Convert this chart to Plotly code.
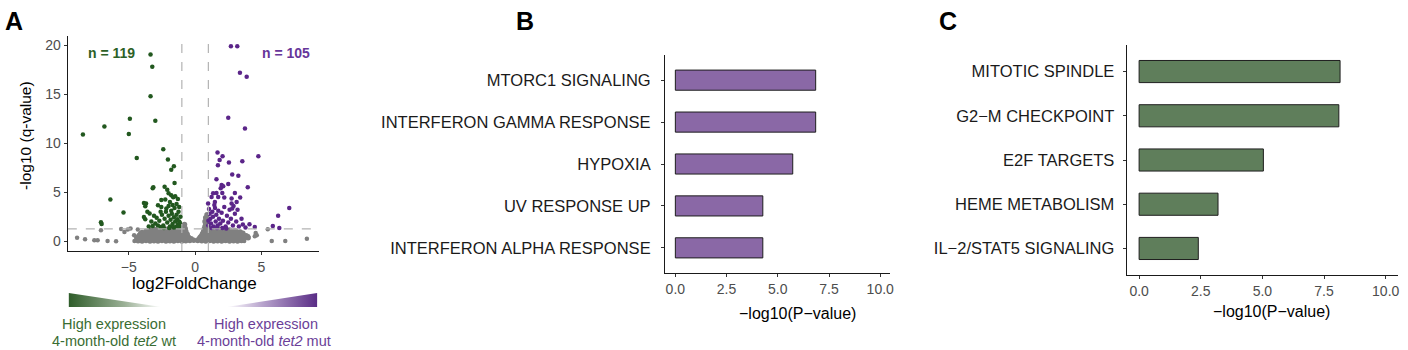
import plotly.graph_objects as go

W, H = 1408, 350
FONT = "Liberation Sans, Arial, sans-serif"

# ---------------- Panel A data (volcano) ----------------
green_x = [-3.36, -3.23, -3.36, -4.92, -3.0, -6.84, -8.46, -5.0, -2.4, -4.4, -2.05, -1.6, -1.8, -1.55,
           -3.2, -3.15, -2.3, -2.1, -2.0, -1.8, -1.65, -1.5, -6.39, -2.55, -2.25, -3.86, -3.7, -3.76,
           -2.8, -2.55, -2.17, -5.4, -3.6, -3.43, -3.86, -3.76, -7.1, -7.05,
           -3.3, -3.0, -3.2, -2.9, -2.7, -2.5, -2.4, -2.3, -2.2, -2.1, -2.0, -1.9, -1.85, -1.8, -1.75,
           -1.7, -1.6, -1.55, -1.5, -1.45, -1.4, -1.35, -1.3, -1.25, -1.2, -1.15, -1.1, -1.6, -2.6,
           -2.8, -3.5, -2.0, -1.9, -1.4, -1.3, -2.6, -3.1, -1.2, -1.7, -1.15, -1.3, -2.35, -1.95]
green_y = [19.05, 17.8, 14.8, 12.5, 12.3, 11.7, 10.9, 10.95, 9.4, 8.5, 8.35, 7.65, 7.3, 5.95,
           5.4, 5.5, 5.55, 5.25, 4.9, 4.7, 4.5, 4.6, 4.25, 4.2, 4.25, 3.9, 3.85, 3.57,
           3.67, 3.5, 3.33, 2.93, 3.0, 2.82, 2.48, 2.24, 1.94, 1.75,
           2.0, 1.8, 1.55, 2.4, 2.1, 2.7, 1.6, 2.3, 3.0, 1.9, 2.6, 1.5, 2.2, 3.1, 2.8,
           1.75, 2.45, 3.4, 2.0, 1.45, 2.7, 2.25, 1.7, 3.0, 2.0, 1.5, 2.5, 1.4, 1.45,
           1.6, 1.5, 3.6, 4.0, 3.8, 4.3, 3.0, 2.6, 3.5, 3.7, 1.85, 1.45, 1.35, 1.35]

purple_x = [2.7, 3.18, 3.38, 3.89, 2.5, 3.76, 1.69, 2.07, 1.85, 1.72, 2.55, 3.56, 4.77, 2.8, 3.26,
            1.61, 2.0, 2.12, 2.5, 1.93, 3.97, 1.36, 1.61, 2.05, 3.0, 1.24, 1.74, 2.2, 2.75, 3.4,
            2.75, 3.13, 1.49, 0.98, 7.1, 6.26, 3.5, 4.1, 4.5, 5.86, 6.35,
            1.05, 1.1, 1.15, 1.2, 1.3, 1.35, 1.4, 1.5, 1.55, 1.6, 1.7, 1.75, 1.8, 1.9, 2.0, 2.1,
            2.2, 2.3, 2.4, 2.5, 2.6, 2.7, 2.85, 3.0, 3.1, 3.3, 3.2, 2.9, 1.25, 2.05, 3.6, 3.8,
            1.0, 1.0, 1.45, 2.35, 1.65, 2.8]
purple_y = [19.9, 19.9, 17.2, 16.8, 12.6, 11.5, 9.05, 8.67, 8.3, 7.76, 8.03, 8.16, 8.67, 6.82, 6.68,
            6.33, 5.75, 5.62, 5.85, 5.4, 5.5, 4.9, 4.92, 4.93, 4.93, 4.52, 4.52, 4.46, 4.36, 4.46,
            3.85, 4.0, 4.0, 3.85, 3.4, 2.6, 2.3, 1.73, 1.46, 1.55, 1.35,
            3.3, 2.8, 2.3, 1.8, 3.0, 2.5, 1.5, 3.4, 2.0, 2.7, 1.6, 3.1, 2.3, 1.8, 2.9, 2.1,
            3.5, 1.5, 2.6, 1.9, 3.2, 2.3, 1.6, 2.8, 2.0, 1.5, 3.2, 3.6, 1.35, 1.35, 1.7, 1.4,
            1.6, 2.1, 3.7, 1.3, 1.35, 3.35]

# dense non-significant cloud
gray_x = [-4.3, -4.0, -3.7, -3.4, -3.1, -2.8, -2.5, -2.2, -1.9, -1.6, -1.3, -1.0, -0.7, -0.4, -0.1,
          0.2, 0.5, 0.8, 1.1, 1.4, 1.7, 2.0, 2.3, 2.6, 2.9, 3.2, 3.5,
          -4.15, -3.85, -3.55, -3.25, -2.95, -2.65, -2.35, -2.05, -1.75, -1.45, -1.15, -0.85, -0.55, -0.3,
          0.3, 0.6, 0.95, 1.25, 1.55, 1.85, 2.15, 2.45, 2.75, 3.05, 3.35, 3.65,
          -4.4, -4.1, -3.8, -3.5, -3.2, -2.9, -2.6, -2.3, -2.0, -1.7, -1.4, -1.1, -0.8, -0.5,
          0.4, 0.7, 1.0, 1.3, 1.6, 1.9, 2.2, 2.5, 2.8, 3.1, 3.4, 3.7, 4.0,
          -4.25, -3.95, -3.65, -3.35, -3.05, -2.75, -2.45, -2.15, -1.85, -1.55, -1.25, -0.95, -0.65,
          0.5, 0.8, 1.1, 1.4, 1.7, 2.0, 2.3, 2.6, 2.9, 3.2, 3.5, 3.8,
          -4.2, -3.9, -3.6, -3.3, -3.0, -2.7, -2.4, -2.1, -1.8, -1.5, -1.2, -0.9, -0.6,
          0.55, 0.85, 1.15, 1.45, 1.75, 2.05, 2.35, 2.65, 2.95, 3.25, 3.55, 3.85,
          -4.1, -3.75, -3.45, -3.15, -2.85, -2.55, -2.25, -1.95, -1.65, -1.35, -1.05, -0.75,
          0.6, 0.9, 1.2, 1.5, 1.8, 2.1, 2.4, 2.7, 3.0, 3.3, 3.6,
          -4.0, -3.6, -3.3, -3.0, -2.7, -2.4, -2.1, -1.8, -1.5, -1.2, -0.9, -0.7,
          0.65, 0.9, 1.2, 1.5, 1.8, 2.1, 2.4, 2.7, 3.0, 3.3, 3.6,
          -3.7, -3.2, -2.85, -2.5, -2.15, -1.85, -1.55, -1.25, -0.95, -0.75,
          0.7, 0.95, 1.3, 1.65, 2.0, 2.35, 2.7, 3.1, 3.4,
          -3.4, -3.0, -2.6, -2.2, -1.8, -1.4, -1.1, -0.85, -0.75,
          0.7, 0.85, 1.1, 1.4, 1.8, 2.2, 2.6, 3.0,
          -0.85, -0.8, -0.95, 0.75, 0.8, 0.85, 0.8, 0.9, 0.75, 0.95]
gray_y = [0.05, 0.02, 0.06, 0.03, 0.05, 0.02, 0.06, 0.03, 0.05, 0.02, 0.06, 0.03, 0.05, 0.08, 0.1,
          0.08, 0.05, 0.03, 0.06, 0.02, 0.05, 0.03, 0.06, 0.02, 0.05, 0.03, 0.06,
          0.2, 0.18, 0.22, 0.19, 0.21, 0.18, 0.22, 0.2, 0.19, 0.21, 0.18, 0.22, 0.2, 0.24,
          0.24, 0.2, 0.19, 0.21, 0.18, 0.22, 0.2, 0.19, 0.21, 0.18, 0.2, 0.17,
          0.35, 0.38, 0.32, 0.36, 0.33, 0.37, 0.34, 0.38, 0.32, 0.36, 0.33, 0.37, 0.35, 0.4,
          0.42, 0.35, 0.37, 0.33, 0.36, 0.32, 0.38, 0.34, 0.37, 0.33, 0.36, 0.32, 0.35,
          0.5, 0.52, 0.48, 0.51, 0.49, 0.53, 0.5, 0.48, 0.52, 0.5, 0.49, 0.53, 0.55,
          0.55, 0.5, 0.52, 0.48, 0.51, 0.49, 0.53, 0.5, 0.48, 0.5, 0.47, 0.45,
          0.62, 0.66, 0.63, 0.67, 0.64, 0.68, 0.62, 0.66, 0.63, 0.67, 0.64, 0.68, 0.7,
          0.7, 0.64, 0.67, 0.63, 0.66, 0.62, 0.68, 0.64, 0.67, 0.63, 0.6, 0.55,
          0.78, 0.8, 0.82, 0.79, 0.81, 0.78, 0.82, 0.8, 0.79, 0.81, 0.83, 0.85,
          0.85, 0.8, 0.78, 0.82, 0.8, 0.79, 0.81, 0.78, 0.76, 0.72, 0.68,
          0.9, 0.95, 0.92, 0.97, 0.93, 0.96, 0.92, 0.97, 0.94, 0.96, 0.98, 1.0,
          0.98, 0.95, 0.92, 0.97, 0.93, 0.96, 0.92, 0.95, 0.9, 0.85, 0.8,
          1.02, 1.08, 1.06, 1.1, 1.07, 1.09, 1.06, 1.1, 1.12, 1.15,
          1.12, 1.08, 1.1, 1.06, 1.09, 1.07, 1.05, 1.0, 0.95,
          1.15, 1.2, 1.18, 1.22, 1.17, 1.21, 1.2, 1.25, 1.3,
          1.28, 1.22, 1.2, 1.18, 1.22, 1.19, 1.15, 1.1,
          1.45, 1.7, 1.55, 1.5, 1.8, 2.1, 2.4, 2.7, 2.0, 1.6]

# scattered non-significant genes
gray_iso_x = [-8.9, -8.3, -7.6, -7.35, -6.6, -5.96, -4.57, -7.1, -5.58, -5.33, -5.08, -4.87, -4.32, -4.6,
              3.7, 4.0, 4.57, 4.65, 4.5, 5.48, 5.78, 6.8, 8.43]
gray_iso_y = [0.34, 0.2, 0.1, 0.1, 0.03, 0.0, 0.03, 1.12, 1.25, 0.95, 1.19, 1.29, 1.19, 0.6,
              0.03, 0.5, 0.85, 0.6, 0.5, 1.22, 0.03, 0.03, 0.24]

n_left_label = "n = 119"
n_right_label = "n = 105"
fc_cutoff = 1.0
q_cutoff = 1.3

# ---------------- Panel B data ----------------
b_terms = ["MTORC1 SIGNALING", "INTERFERON GAMMA RESPONSE", "HYPOXIA",
           "UV RESPONSE UP", "INTERFERON ALPHA RESPONSE"]
b_values = [6.85, 6.85, 5.73, 4.27, 4.27]

# ---------------- Panel C data ----------------
c_terms = ["MITOTIC SPINDLE", "G2\u2212M CHECKPOINT", "E2F TARGETS",
           "HEME METABOLISM", "IL\u22122/STAT5 SIGNALING"]
c_values = [8.15, 8.1, 5.04, 3.2, 2.4]

bar_ticks = [0, 2.5, 5, 7.5, 10]
bar_ticktext = ["0.0", "2.5", "5.0", "7.5", "10.0"]

GREEN_PT = "#22581f"
PURPLE_PT = "#5b2589"
GRAY_PT = "#808080"
BAR_PURPLE = "#8a68a6"
BAR_GREEN = "#5f7e5b"


def px_x(p):
    return p / W


def px_y(p):
    return 1 - p / H


fig = go.Figure()

# volcano points
fig.add_trace(go.Scatter(x=gray_x, y=gray_y, mode="markers", xaxis="x", yaxis="y",
                         marker=dict(color=GRAY_PT, size=5.5, line=dict(width=0)), showlegend=False))
fig.add_trace(go.Scatter(x=gray_iso_x, y=gray_iso_y, mode="markers", xaxis="x", yaxis="y",
                         marker=dict(color=GRAY_PT, size=4.5, line=dict(width=0)), showlegend=False))
fig.add_trace(go.Scatter(x=green_x, y=green_y, mode="markers", xaxis="x", yaxis="y",
                         marker=dict(color=GREEN_PT, size=4.5, line=dict(width=0)), showlegend=False))
fig.add_trace(go.Scatter(x=purple_x, y=purple_y, mode="markers", xaxis="x", yaxis="y",
                         marker=dict(color=PURPLE_PT, size=4.5, line=dict(width=0)), showlegend=False))

# bars
fig.add_trace(go.Bar(x=b_values, y=b_terms, orientation="h", xaxis="x2", yaxis="y2", width=0.48,
                     marker=dict(color=BAR_PURPLE, line=dict(color="#1e1e1e", width=1)),
                     showlegend=False))
fig.add_trace(go.Bar(x=c_values, y=c_terms, orientation="h", xaxis="x3", yaxis="y3", width=0.5,
                     marker=dict(color=BAR_GREEN, line=dict(color="#1e1e1e", width=1)),
                     showlegend=False))

# gradient triangles (decorative legend under panel A), pixel overlay axis
fig.add_trace(go.Scatter(x=[69, 69, 162, 69], y=[293, 307, 307, 293], mode="lines", fill="toself",
                         line=dict(width=0), xaxis="x4", yaxis="y4", showlegend=False,
                         hoverinfo="skip",
                         fillgradient=dict(type="horizontal",
                                           colorscale=[[0, "#2f5d2a"], [0.6, "#9bb096"], [1, "#ffffff"]])))
fig.add_trace(go.Scatter(x=[227, 318, 318, 227], y=[307, 293, 307, 307], mode="lines", fill="toself",
                         line=dict(width=0), xaxis="x4", yaxis="y4", showlegend=False,
                         hoverinfo="skip",
                         fillgradient=dict(type="horizontal",
                                           colorscale=[[0, "#ffffff"], [0.4, "#b7a3cc"], [1, "#5a2d86"]])))

axis_common = dict(showline=True, linecolor="#1a1a1a", linewidth=1.3, ticks="outside", ticklen=3,
                   tickcolor="#333333", showgrid=False, zeroline=False,
                   tickfont=dict(family=FONT, size=14, color="#4d4d4d"))

layout = dict(
    width=W, height=H, margin=dict(l=0, r=0, t=0, b=0),
    paper_bgcolor="white", plot_bgcolor="rgba(0,0,0,0)", font=dict(family=FONT),
    xaxis=dict(axis_common, domain=[px_x(68), px_x(320)], range=[-9.6, 9.35],
               tickvals=[-5, 0, 5], anchor="y"),
    yaxis=dict(axis_common, domain=[px_y(251), px_y(36)], range=[-1, 20.95],
               tickvals=[0, 5, 10, 15, 20], anchor="x"),
    xaxis2=dict(axis_common, domain=[px_x(667), px_x(893)], range=[-0.5, 10.5],
                tickvals=bar_ticks, ticktext=bar_ticktext, anchor="y2"),
    yaxis2=dict(axis_common, domain=[px_y(273), px_y(55)], type="category",
                categoryorder="array", categoryarray=b_terms[::-1], range=[-0.6, 4.6],
                anchor="x2", ticklabelstandoff=7,
                tickfont=dict(family=FONT, size=16.5, color="#1a1a1a")),
    xaxis3=dict(axis_common, domain=[px_x(1130), px_x(1402)], range=[-0.5, 10.5],
                tickvals=bar_ticks, ticktext=bar_ticktext, anchor="y3"),
    yaxis3=dict(axis_common, domain=[px_y(275), px_y(45)], type="category",
                categoryorder="array", categoryarray=c_terms[::-1], range=[-0.6, 4.6],
                anchor="x3", ticklabelstandoff=5,
                tickfont=dict(family=FONT, size=16.5, color="#1a1a1a")),
    xaxis4=dict(domain=[0, 1], range=[0, W], visible=False, anchor="y4", fixedrange=True),
    yaxis4=dict(domain=[0, 1], range=[H, 0], visible=False, anchor="x4", fixedrange=True),
)
fig.update_layout(**layout)

# dashed cutoff lines in panel A
dash_style = dict(color="#b3b3b3", width=1.2, dash="dash")
fig.add_shape(type="line", xref="x", yref="y", x0=-fc_cutoff, x1=-fc_cutoff, y0=-1, y1=20.95,
              line=dash_style, layer="above")
fig.add_shape(type="line", xref="x", yref="y", x0=fc_cutoff, x1=fc_cutoff, y0=-1, y1=20.95,
              line=dash_style, layer="above")
fig.add_shape(type="line", xref="x", yref="y", x0=-9.6, x1=9.35, y0=q_cutoff - 0.05, y1=q_cutoff - 0.05,
              line=dash_style, layer="above")


def ann(text, x, y, size, color="#000000", bold=False, angle=0, xanchor="center"):
    t = f"<b>{text}</b>" if bold else text
    fig.add_annotation(text=t, x=px_x(x), y=px_y(y), xref="paper", yref="paper",
                       showarrow=False, xanchor=xanchor, yanchor="middle", textangle=angle,
                       font=dict(family=FONT, size=size, color=color))


# panel letters
ann("A", 14, 21, 25, bold=True)
ann("B", 526, 21, 25, bold=True)
ann("C", 951, 21, 25, bold=True)

# panel A texts
ann(n_left_label, 112, 53, 14, color="#2d6127", bold=True)
ann(n_right_label, 287, 53, 14, color="#67369a", bold=True)
ann("log2FoldChange", 195, 283, 17)
ann("-log10 (q-value)", 25, 135, 15.5, angle=-90)
ann("High expression", 114, 324, 14.5, color="#3a6d33")
ann("4-month-old <i>tet2</i> wt", 114, 341, 14.5, color="#3a6d33")
ann("High expression", 267, 324, 14.5, color="#6b3f98")
ann("4-month-old <i>tet2</i> mut", 265, 341, 14.5, color="#6b3f98")

# bar panels x titles
ann("\u2212log10(P\u2212value)", 800, 313, 16)
ann("\u2212log10(P\u2212value)", 1275, 311, 16)

fig.write_html("out.html", config={"displayModeBar": False},
               post_script="document.body.style.margin='0px';")
